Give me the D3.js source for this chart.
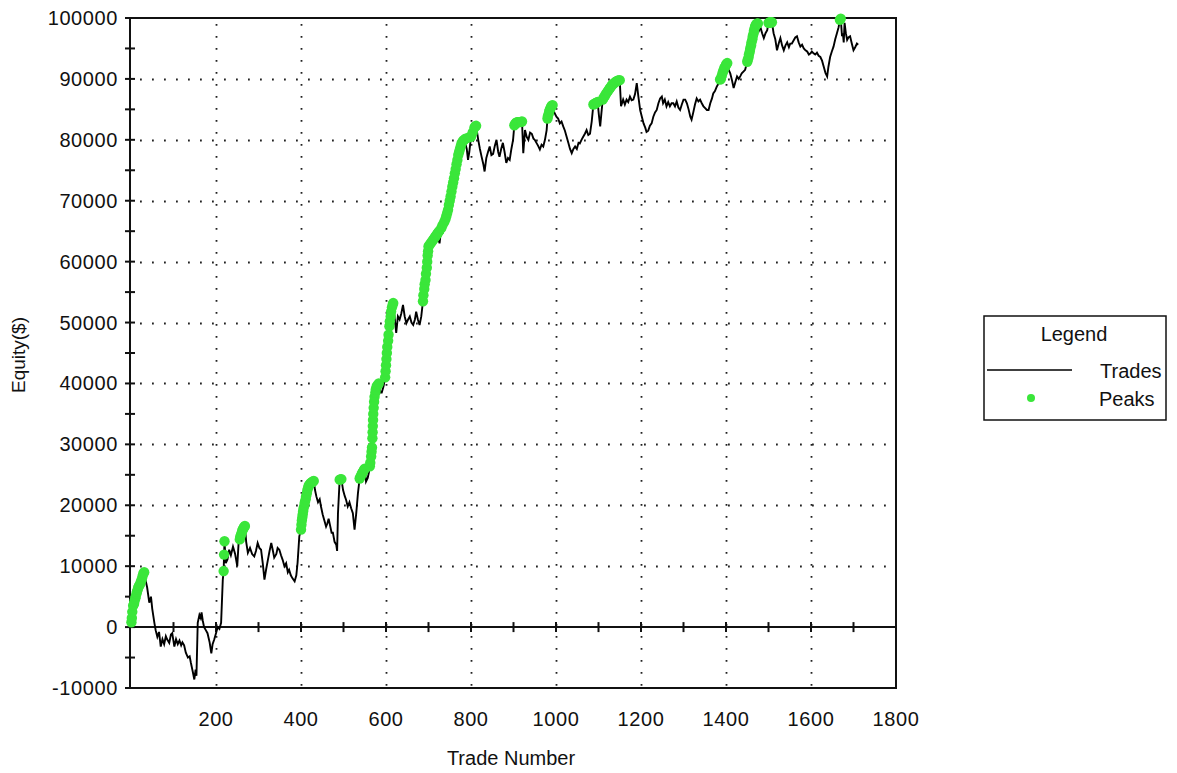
<!DOCTYPE html>
<html>
<head>
<meta charset="utf-8">
<script src="https://cdn.jsdelivr.net/npm/d3@7"></script>
<style>
html,body{margin:0;padding:0;background:#fff;}
svg{display:block;}
text{font-family:"Liberation Sans",Arial,sans-serif;fill:#111;}
</style>
</head>
<body>
<svg id="chart" width="1177" height="773"></svg>
<script>
// ---- data (trade number, equity $) ----
const tradePoints = [
[0,0],[2,1500],[5,3500],[8,3000],[11,5000],[15,6000],[18,5500],[21,7000],[25,7800],[29,8800],[31,9000],
[34,7800],[38,6500],[43,4000],[47,5000],[50,3000],[55,700],[58,-500],[62,-1600],[66,-800],[70,-3200],
[74,-2000],[78,-2800],[82,-1500],[85,-2000],[90,-2600],[94,-1200],[97,-1000],[102,-3200],[106,-2000],
[110,-2800],[114,-2200],[118,-3000],[121,-2500],[125,-3000],[129,-4200],[134,-5000],[138,-4800],
[141,-5900],[145,-7200],[149,-8600],[152,-7000],[154,-8000],[157,700],[161,2000],[164,1500],[166,2400],
[169,1000],[172,0],[176,-500],[180,-1000],[185,-2500],[189,-4300],[192,-2800],[196,-2000],[200,-1000],
[204,0],[208,-300],[212,700],[216,7800],[218,9200],[219,11900],[220,14100],[223,10500],[227,11100],
[231,12700],[235,11800],[240,13200],[245,12000],[250,10000],[253,13600],[256,14400],[259,15200],
[262,15900],[265,16300],[268,16600],[271,14000],[275,12200],[280,13000],[285,12000],[290,11600],
[294,12500],[298,13800],[302,13000],[306,12700],[310,10500],[314,7800],[318,9500],[322,11000],
[326,12500],[330,13800],[334,12500],[337,11400],[342,12000],[345,13000],[349,12700],[353,11800],
[357,11000],[361,10000],[365,10500],[369,9000],[372,9400],[376,8500],[380,8000],[385,7500],[389,8500],
[392,10600],[396,14900],[400,16000],[402,17500],[404,18500],[406,19500],[409,20500],[412,21500],
[415,22500],[418,23200],[422,23600],[426,23800],[430,24000],[433,22500],[436,21500],[440,20500],
[444,21000],[447,19800],[451,18500],[455,17500],[459,16500],[462,17000],[465,17800],[469,16500],
[472,15500],[475,15500],[479,14000],[483,13500],[485,12500],[487,18700],[491,24200],[495,24300],
[499,22500],[503,21500],[506,20900],[510,19800],[514,20500],[518,19500],[522,18700],[526,16000],
[530,18700],[534,22000],[538,24400],[542,25000],[546,25500],[550,26000],[553,23900],[557,24500],
[560,25500],[562,26400],[565,28000],[567,29500],[568,31000],[569,33000],[570,35000],[572,37000],
[575,38500],[578,39500],[583,40000],[587,38500],[590,38500],[594,39500],[598,41000],[600,43000],
[602,45000],[605,47000],[608,49400],[611,51000],[614,52500],[617,53200],[620,51000],[624,48300],
[628,51000],[632,50500],[636,51500],[640,52900],[644,51000],[648,49900],[652,50500],[656,51000],
[660,50000],[664,49600],[668,50500],[671,51800],[675,50500],[679,49600],[683,51000],[687,53500],
[690,55500],[693,57000],[696,59000],[698,61000],[700,62500],[705,63000],[710,63500],[715,64000],
[720,64500],[724,63500],[726,63000],[730,65500],[734,65000],[737,66500],[742,67500],[746,68500],
[750,70000],[754,71500],[758,73000],[762,74500],[766,76000],[770,77500],[774,78500],[778,79500],
[784,80000],[790,78500],[793,76700],[796,78000],[800,80500],[805,80000],[808,82000],[812,82300],
[817,80000],[821,78500],[825,77200],[829,76000],[832,74800],[836,77000],[840,78000],[844,78900],
[848,77500],[852,77700],[856,79000],[860,80000],[864,78000],[867,77200],[871,78500],[875,79500],
[879,78000],[883,76200],[887,77000],[891,76700],[895,78500],[899,80000],[902,82400],[906,82800],
[910,82900],[915,82900],[920,83000],[923,77800],[927,81600],[931,80500],[935,80000],[939,81200],
[943,81000],[947,80200],[950,80000],[954,79500],[958,79000],[962,78400],[966,79200],[970,78900],
[974,80000],[978,81600],[980,83500],[983,84300],[986,85000],[989,85500],[992,85700],[996,84500],
[1001,83800],[1005,83500],[1009,82700],[1013,83000],[1017,82200],[1021,81500],[1025,80500],
[1029,79500],[1033,78500],[1037,77800],[1041,78500],[1045,78900],[1049,78500],[1053,79500],
[1056,79400],[1060,80000],[1064,80500],[1068,81000],[1072,81600],[1076,80800],[1080,81000],
[1084,83000],[1088,85800],[1093,86000],[1098,86200],[1101,84000],[1104,82200],[1107,84500],
[1110,86600],[1115,87200],[1120,87800],[1125,88300],[1130,88800],[1135,89200],[1140,89500],
[1145,89700],[1150,89800],[1153,85500],[1158,86600],[1162,85800],[1166,86600],[1170,86200],
[1174,87100],[1178,86500],[1182,86600],[1186,87500],[1190,89300],[1194,87000],[1198,84900],
[1202,83800],[1206,82700],[1210,82000],[1213,81300],[1217,81500],[1221,82300],[1225,82700],
[1229,83800],[1233,84500],[1237,84900],[1241,86000],[1245,86800],[1249,87100],[1252,86000],
[1256,86600],[1260,85500],[1264,86200],[1268,85500],[1272,86000],[1276,86000],[1280,85500],
[1284,86300],[1288,85300],[1292,84900],[1296,85800],[1300,86600],[1304,86600],[1308,86000],
[1312,85000],[1316,83800],[1319,83300],[1323,84500],[1327,85800],[1331,86800],[1335,86300],
[1339,86600],[1343,86000],[1347,85500],[1351,85200],[1355,84900],[1359,84900],[1363,86000],
[1367,86800],[1370,87600],[1374,88000],[1378,88700],[1382,89200],[1386,89900],[1388,90000],
[1392,91000],[1396,91800],[1400,92300],[1403,92600],[1406,91500],[1410,90900],[1414,89800],
[1418,88500],[1422,89500],[1426,90400],[1430,90000],[1434,90500],[1437,90900],[1441,91200],
[1445,91500],[1450,92800],[1453,93500],[1456,94500],[1459,95500],[1462,96500],[1465,97500],
[1468,98500],[1471,99000],[1475,99100],[1478,98000],[1481,98500],[1485,97500],[1489,96700],
[1493,97500],[1497,98000],[1500,99200],[1504,99300],[1508,99300],[1512,97500],[1516,96500],
[1520,94700],[1524,95800],[1528,96700],[1532,95500],[1536,94700],[1540,95500],[1544,96000],
[1548,95200],[1551,95800],[1555,95800],[1559,96300],[1563,96800],[1567,97000],[1571,96000],
[1575,95300],[1579,95600],[1583,95000],[1587,94700],[1591,94500],[1595,94000],[1599,94200],
[1602,94500],[1606,94200],[1610,94000],[1614,94300],[1618,93800],[1622,93600],[1626,93000],
[1630,92000],[1634,91000],[1638,90400],[1641,92000],[1645,93600],[1649,94500],[1653,95300],
[1657,96500],[1661,97500],[1665,98500],[1668,99700],[1670,99900],[1673,97000],[1675,97500],
[1677,96000],[1679,99200],[1682,97500],[1685,96400],[1688,96800],[1692,97000],[1696,95800],
[1700,94700],[1704,95200],[1708,95800],[1711,95600]
];

const peakPoints = [
[1,800],[2,1500],[3,2500],[5,3500],[7,3800],[8,4200],[10,4700],[11,5000],[13,5500],[14,5800],
[16,6200],[17,6500],[19,6800],[21,7000],[23,7400],[25,7800],[27,8300],[29,8800],[31,9000],
[218,9200],[219,11900],[220,14100],
[256,14400],[257,14800],[259,15200],[261,15600],[262,15900],[264,16100],[265,16300],[267,16500],[268,16600],
[400,16000],[401,16800],[402,17500],[403,18000],[404,18500],[405,19000],[406,19500],[408,20000],
[409,20500],[411,21000],[412,21500],[414,22000],[415,22500],[417,22900],[418,23200],[420,23400],
[422,23600],[424,23700],[426,23800],[428,23900],[430,24000],
[491,24200],[493,24250],[495,24300],
[538,24400],[540,24700],[542,25000],[544,25300],[546,25500],[548,25800],[550,26000],
[562,26400],[563,27000],[565,28000],[566,28800],[567,29500],[568,31000],[568.5,32000],[569,33000],
[569.5,34000],[570,35000],[571,36000],[572,37000],[573,37800],[575,38500],[576,39000],[578,39500],
[580,39700],[583,40000],
[598,41000],[599,42000],[600,43000],[601,44000],[602,45000],[603,46000],[605,47000],[606,48000],
[608,49400],[609,50200],[611,51000],[612,51800],[614,52500],[616,53000],[617,53200],
[687,53500],[688,54500],[690,55500],[691,56300],[693,57000],[694,58000],[696,59000],[697,60000],
[698,61000],[699,61700],[700,62500],[702,62700],[705,63000],[707,63200],[710,63500],[712,63700],
[715,64000],[717,64200],[720,64500],[722,64700],[725,65000],[730,65500],[733,66000],[737,66500],
[740,67000],[742,67500],[744,68000],[746,68500],[748,69300],[750,70000],[752,70700],[754,71500],
[756,72300],[758,73000],[760,73700],[762,74500],[764,75200],[766,76000],[768,76700],[770,77500],
[772,78000],[774,78500],[776,79000],[778,79500],[781,79800],[784,80000],[787,80200],[795,80400],
[800,80500],[804,81200],[808,82000],[810,82200],[812,82300],
[902,82400],[904,82600],[906,82800],[908,82850],[910,82900],[912,82900],[915,82900],[918,82950],[920,83000],
[980,83500],[981,83900],[983,84300],[984,84700],[986,85000],[987,85200],[989,85500],[990,85600],[992,85700],
[1088,85800],[1090,85900],[1093,86000],[1095,86100],[1098,86200],
[1110,86600],[1112,86900],[1115,87200],[1117,87500],[1120,87800],[1122,88000],[1125,88300],
[1127,88500],[1130,88800],[1132,89000],[1135,89200],[1137,89300],[1140,89500],[1142,89600],
[1145,89700],[1147,89750],[1150,89800],
[1386,89900],[1388,90000],[1390,90500],[1392,91000],[1394,91400],[1396,91800],[1398,92000],
[1400,92300],[1401,92450],[1403,92600],
[1450,92800],[1451,93100],[1453,93500],[1454,94000],[1456,94500],[1457,95000],[1459,95500],
[1460,96000],[1462,96500],[1463,97000],[1465,97500],[1466,98000],[1468,98500],[1469,98700],
[1471,99000],[1473,99050],[1475,99100],
[1500,99200],[1502,99250],[1504,99300],[1506,99300],[1508,99300],
[1668,99700],[1670,99900]
];

const xTickLabels = [200,400,600,800,1000,1200,1400,1600,1800];
const xMinorTicks = [100,200,300,400,500,600,700,800,900,1000,1100,1200,1300,1400,1500,1600,1700];
const xGridValues = [200,400,600,800,1000,1200,1400,1600];
const yTickLabels = [-10000,0,10000,20000,30000,40000,50000,60000,70000,80000,90000,100000];
const yMinorTicks = [-5000,5000,15000,25000,35000,45000,55000,65000,75000,85000,95000];
const yGridValues = [10000,20000,30000,40000,50000,60000,70000,80000,90000];
const seriesNames = ["Trades","Peaks"];

// ---- drawing ----
const svg = d3.select("#chart");
const L = 130, R = 896, T = 18, B = 688;
const x = d3.scaleLinear().domain([0,1800]).range([131,896]);
const y = d3.scaleLinear().domain([-10000,100000]).range([B,T]);
const FS = 20;
const GREEN = "#3ae63a";

// grid (dotted)
const grid = svg.append("g").attr("stroke","#222").attr("stroke-width",1.8).attr("stroke-dasharray","1.8,10.2");
grid.selectAll("line.gx").data(xGridValues).join("line")
  .attr("x1",d=>Math.round(x(d))+0.5).attr("x2",d=>Math.round(x(d))+0.5)
  .attr("y1",T+6).attr("y2",B);
grid.selectAll("line.gy").data(yGridValues).join("line")
  .attr("y1",d=>Math.round(y(d))+0.5).attr("y2",d=>Math.round(y(d))+0.5)
  .attr("x1",L+10).attr("x2",R);

// frame
svg.append("rect").attr("x",L).attr("y",T).attr("width",R-L).attr("height",B-T)
  .attr("fill","none").attr("stroke","#111").attr("stroke-width",2);

// zero line (x axis)
svg.append("line").attr("x1",L).attr("x2",R).attr("y1",y(0)).attr("y2",y(0))
  .attr("stroke","#111").attr("stroke-width",2);

// x ticks on zero line
svg.append("g").selectAll("line").data(xMinorTicks).join("line")
  .attr("x1",d=>x(d)).attr("x2",d=>x(d)).attr("y1",y(0)-5).attr("y2",y(0)+5)
  .attr("stroke","#111").attr("stroke-width",2);

// y ticks
svg.append("g").selectAll("line").data(yTickLabels.concat(yMinorTicks)).join("line")
  .attr("x1",L-5).attr("x2",L+5).attr("y1",d=>y(d)).attr("y2",d=>y(d))
  .attr("stroke","#111").attr("stroke-width",2);

// y labels
svg.append("g").selectAll("text").data(yTickLabels).join("text")
  .attr("x",118).attr("y",d=>y(d)+7).attr("text-anchor","end")
  .attr("font-size",FS).attr("letter-spacing","0.6px").text(d=>d);

// x labels
svg.append("g").selectAll("text").data(xTickLabels).join("text")
  .attr("x",d=>x(d)).attr("y",726).attr("text-anchor","middle")
  .attr("font-size",FS).attr("letter-spacing","0.6px").text(d=>d);

// axis titles
svg.append("text").attr("x",511).attr("y",765).attr("text-anchor","middle")
  .attr("font-size",FS).text("Trade Number");
svg.append("text").attr("transform","translate(25,355) rotate(-90)").attr("text-anchor","middle")
  .attr("font-size",FS-1).text("Equity($)");

// equity line
const line = d3.line().x(d=>x(d[0])).y(d=>y(d[1]));
svg.append("path").datum(tradePoints).attr("d",line)
  .attr("fill","none").attr("stroke","#000").attr("stroke-width",1.9).attr("stroke-linejoin","miter");

// peaks
svg.append("g").selectAll("circle").data(peakPoints).join("circle")
  .attr("cx",d=>x(d[0])).attr("cy",d=>y(d[1])).attr("r",5.2)
  .attr("fill",GREEN);

// legend
const lg = svg.append("g");
lg.append("rect").attr("x",984).attr("y",316).attr("width",182).attr("height",104)
  .attr("fill","#fff").attr("stroke","#111").attr("stroke-width",1.5);
lg.append("text").attr("x",1074).attr("y",341).attr("text-anchor","middle").attr("font-size",FS).text("Legend");
lg.append("line").attr("x1",987).attr("x2",1072).attr("y1",370).attr("y2",370).attr("stroke","#000").attr("stroke-width",1.6);
lg.append("text").attr("x",1100).attr("y",378).attr("font-size",FS).text(seriesNames[0]);
lg.append("circle").attr("cx",1031).attr("cy",398).attr("r",4).attr("fill",GREEN);
lg.append("text").attr("x",1099).attr("y",406).attr("font-size",FS).text(seriesNames[1]);
</script>
</body>
</html>
